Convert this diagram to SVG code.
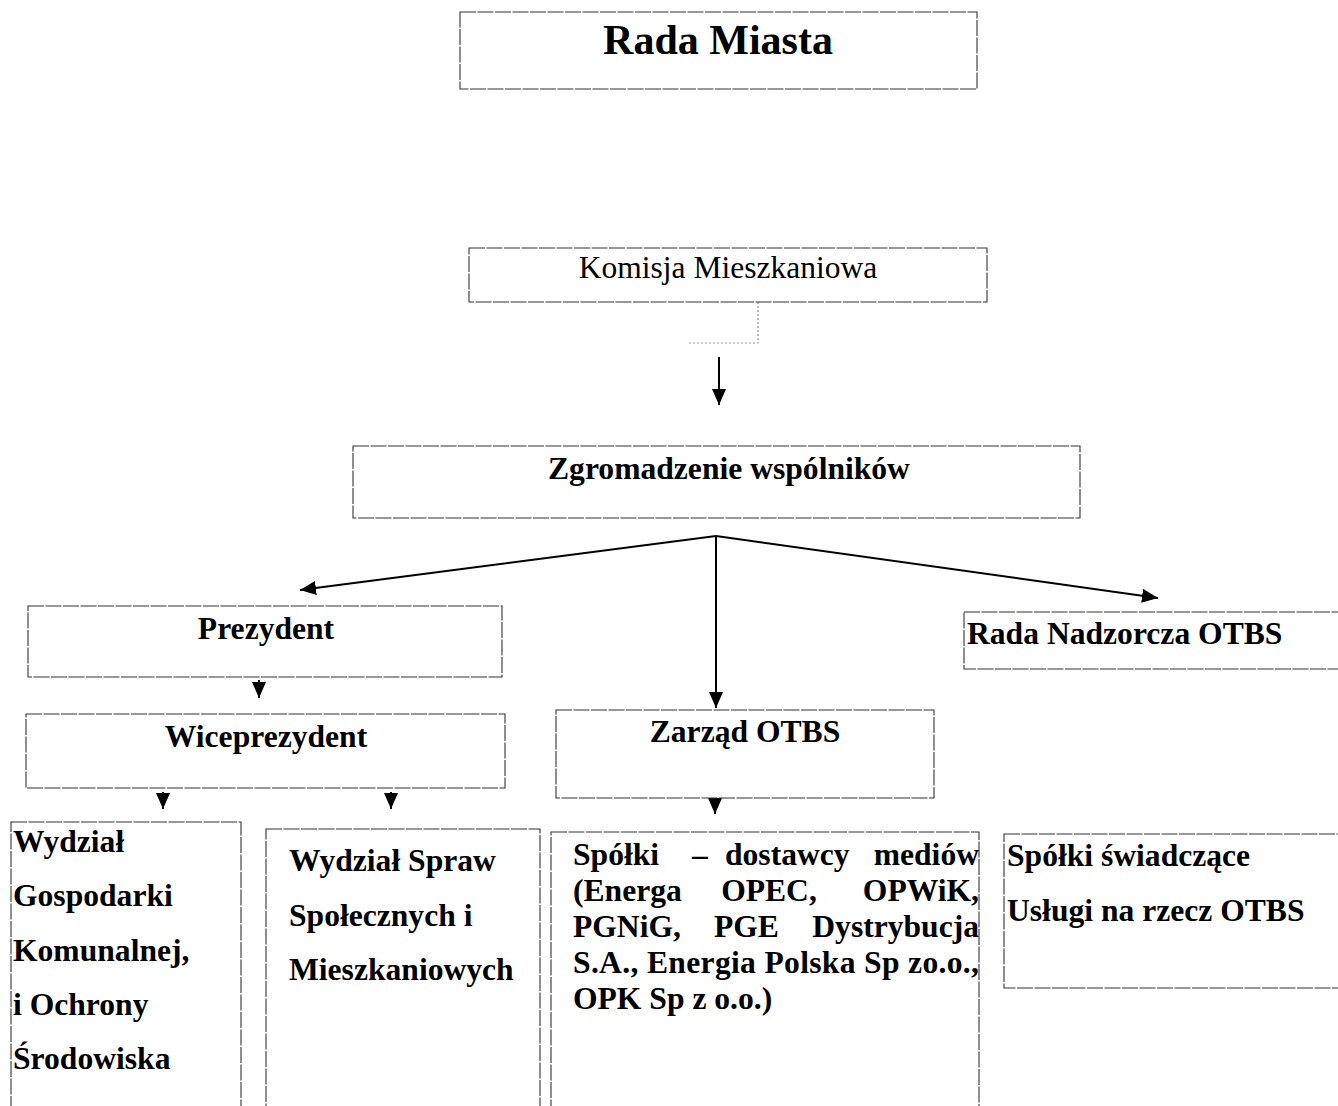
<svg xmlns="http://www.w3.org/2000/svg" width="1338" height="1106" viewBox="0 0 1338 1106">
<defs>
<marker id="ah" viewBox="0 0 16 14" refX="16" refY="7" markerWidth="16" markerHeight="14" markerUnits="userSpaceOnUse" orient="auto">
<path d="M0,0 L16,7 L0,14 z" fill="#000"/>
</marker>
<style>
.box{fill:#fff;stroke:#333;stroke-width:1.1;stroke-dasharray:16 1.5}
.t{font-family:"Liberation Serif","Times New Roman",serif;font-size:31.6px;font-weight:bold;fill:#000}
.c{text-anchor:middle}
.e{text-anchor:end}
.con{stroke:#000;stroke-width:2;fill:none}
</style>
</defs>
<rect width="1338" height="1106" fill="#fff"/>

<g id="connectors">
<path d="M758,302 V343 H689" fill="none" stroke="#999" stroke-width="1.2" stroke-dasharray="2 2"/>
<line class="con" x1="719" y1="357" x2="719" y2="405" marker-end="url(#ah)"/>
<line class="con" x1="716" y1="536" x2="300" y2="590" marker-end="url(#ah)"/>
<line class="con" x1="716" y1="536" x2="716" y2="708" marker-end="url(#ah)"/>
<line class="con" x1="716" y1="536" x2="1158" y2="598" marker-end="url(#ah)"/>
<line class="con" x1="259" y1="680" x2="259" y2="698" marker-end="url(#ah)"/>
<line class="con" x1="163" y1="792" x2="163" y2="809" marker-end="url(#ah)"/>
<line class="con" x1="391" y1="792" x2="391" y2="809" marker-end="url(#ah)"/>
<line class="con" x1="715" y1="796" x2="715" y2="814" marker-end="url(#ah)"/>
</g>

<g id="rada-miasta">
<rect class="box" x="460" y="12" width="517" height="77"/>
<text class="t c" x="718" y="54" style="font-size:42px">Rada Miasta</text>
</g>

<g id="komisja">
<rect class="box" x="469" y="248" width="518" height="54"/>
<text class="t c" x="728" y="278" style="font-weight:normal;font-size:31.5px">Komisja Mieszkaniowa</text>
</g>

<g id="zgromadzenie">
<rect class="box" x="353" y="446" width="727" height="72"/>
<text class="t c" x="729" y="479">Zgromadzenie wspólników</text>
</g>

<g id="prezydent">
<rect class="box" x="28" y="606" width="474" height="71"/>
<text class="t c" x="266" y="639">Prezydent</text>
</g>

<g id="wiceprezydent">
<rect class="box" x="26" y="714" width="479" height="74"/>
<text class="t c" x="266" y="747">Wiceprezydent</text>
</g>

<g id="zarzad">
<rect class="box" x="556" y="710" width="378" height="88"/>
<text class="t c" x="745" y="742">Zarząd OTBS</text>
</g>

<g id="rada-nadzorcza">
<rect class="box" x="964" y="612" width="380" height="57"/>
<text class="t" x="967" y="644">Rada Nadzorcza OTBS</text>
</g>

<g id="wydzial-gk">
<rect class="box" x="11" y="822" width="230" height="300"/>
<text class="t" x="13" y="852">Wydział</text>
<text class="t" x="13" y="906">Gospodarki</text>
<text class="t" x="13" y="961">Komunalnej,</text>
<text class="t" x="13" y="1015">i Ochrony</text>
<text class="t" x="13" y="1069">Środowiska</text>
</g>

<g id="wydzial-ss">
<rect class="box" x="266" y="829" width="274" height="300"/>
<text class="t" x="289" y="871">Wydział Spraw</text>
<text class="t" x="289" y="926">Społecznych i</text>
<text class="t" x="289" y="980">Mieszkaniowych</text>
</g>

<g id="spolki-media">
<rect class="box" x="551" y="832" width="428" height="300"/>
<text class="t" x="573" y="865">Spółki</text>
<text class="t c" x="700" y="865">–</text>
<text class="t" x="725" y="865">dostawcy</text>
<text class="t e" x="979" y="865">mediów</text>
<text class="t" x="573" y="901">(Energa</text>
<text class="t c" x="769" y="901">OPEC,</text>
<text class="t e" x="979" y="901">OPWiK,</text>
<text class="t" x="573" y="937">PGNiG,</text>
<text class="t" x="714" y="937">PGE</text>
<text class="t e" x="979" y="937">Dystrybucja</text>
<text class="t" x="573" y="973" textLength="406" lengthAdjust="spacing">S.A., Energia Polska Sp zo.o.,</text>
<text class="t" x="573" y="1009">OPK Sp z o.o.)</text>
</g>

<g id="spolki-uslugi">
<rect class="box" x="1004" y="834" width="340" height="154"/>
<text class="t" x="1007" y="866">Spółki świadczące</text>
<text class="t" x="1007" y="921">Usługi na rzecz OTBS</text>
</g>
</svg>
